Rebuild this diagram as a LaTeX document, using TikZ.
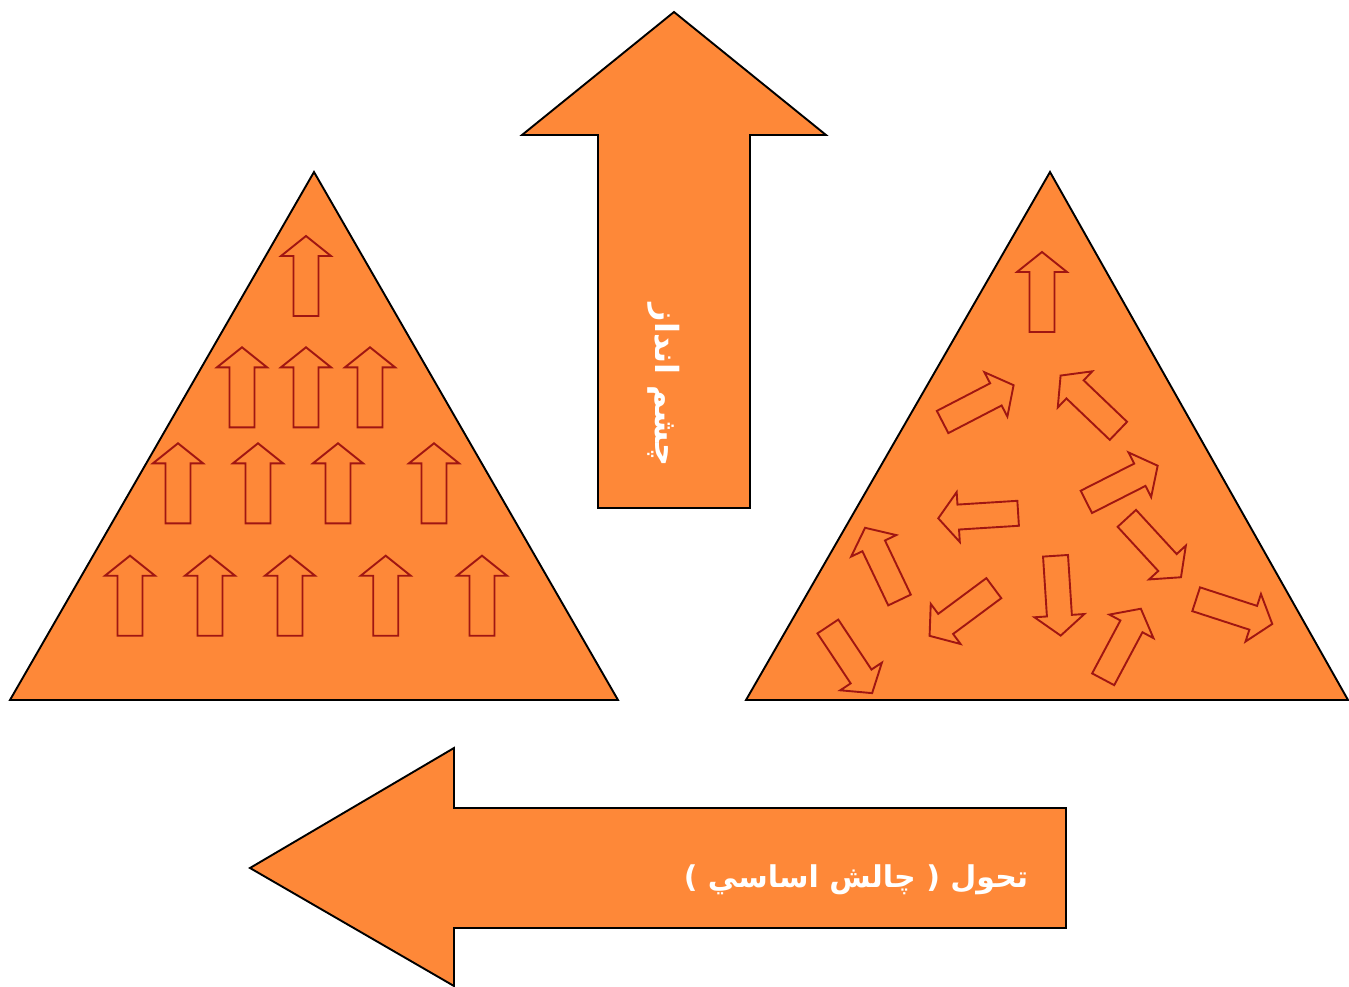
\documentclass[tikz,border=0pt]{standalone}
\usepackage{fontspec}
\TeXXeTstate=1
\newfontfamily\arabicfont[Script=Arabic]{DejaVu Sans}
\definecolor{shapeorange}{RGB}{254,136,56}
\definecolor{arrowred}{RGB}{160,22,18}
\tikzset{
  bigshape/.style={fill=shapeorange, draw=black, line width=1.9pt, line join=miter},
  sarrowline/.style={draw=arrowred, line width=1.9pt, line join=miter},
  sarrow/.pic={\draw[sarrowline] (-40,-12.5) -- (20,-12.5) -- (20,-25) -- (40,0) -- (20,25) -- (20,12.5) -- (-40,12.5) -- cycle;},
  arlabel/.style={text=white, inner sep=0pt, font=\arabicfont\bfseries\fontsize{30}{36}\selectfont}
}
\begin{document}
\begin{tikzpicture}[x=1pt, y=-1pt]
\useasboundingbox (0,0) rectangle (1349,987);
% triangles
\draw[bigshape] (314,172) -- (618,700) -- (10,700) -- cycle;
\draw[bigshape] (1050,172) -- (1348,700) -- (746,700) -- cycle;
% big up arrow
\draw[bigshape] (674,12) -- (826,135) -- (750,135) -- (750,508) -- (598,508) -- (598,135) -- (522,135) -- cycle;
% big left arrow
\draw[bigshape] (250,868) -- (454,748) -- (454,808) -- (1066,808) -- (1066,928) -- (454,928) -- (454,986) -- cycle;
% labels
\node[arlabel, rotate=-90, font=\arabicfont\bfseries\fontsize{32}{38}\selectfont] (vision) at (664,385) {\beginR چشم انداز\endR};
\node[arlabel] (change) at (856,880) {\beginR تحول ( چالش اساسي )\endR};
% left triangle arrows
\foreach \x/\y in {306/276, 242/387.3, 306/387.3, 370/387.3, 178/483.3, 258/483.3, 338/483.3, 434/483.3, 130/595.7, 210/595.7, 290/595.7, 385.7/595.7, 482/595.7}
  \pic[rotate=90] at (\x,\y) {sarrow};
% right triangle arrows
\foreach \x/\y/\a in {1042/292/90, 978.1/403.6/27.4, 1089.5/403.2/136.3, 1122/483.8/26.9, 978.2/515.8/183.6, 1153.9/547.8/-47.4, 882.3/563.9/115.5, 961.7/612/216.6, 1058.1/595.7/-86.3, 850/659.8/-56.4, 1122/644/61.9, 1234.2/611.6/-18}
  \pic[rotate=\a] at (\x,\y) {sarrow};
\end{tikzpicture}
\end{document}
